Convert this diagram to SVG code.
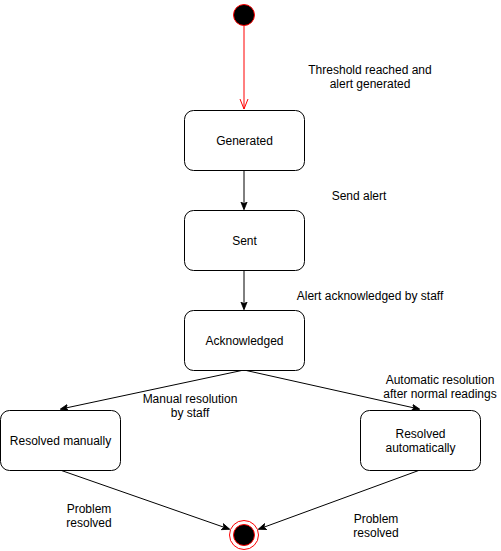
<svg xmlns="http://www.w3.org/2000/svg" width="501" height="551" viewBox="0 0 501 551">
  <style>
    .state rect { fill: #ffffff; stroke: #000000; stroke-width: 1; }
    .state text, .label { font-family: "Liberation Sans", Arial, Helvetica, sans-serif; font-size: 12px; fill: #000000; text-anchor: middle; }
    .edge { fill: none; stroke: #000000; stroke-width: 1; }
    .edge-red { fill: none; stroke: #ff0000; stroke-width: 1; }
  </style>
  <defs>
    <marker id="arrow" viewBox="0 0 10 10" refX="9" refY="5" markerWidth="8" markerHeight="8" markerUnits="userSpaceOnUse" orient="auto">
      <path d="M0,1 L10,5 L0,9 L2.5,5 Z" fill="#000000" stroke="#000000" stroke-width="1"/>
    </marker>
    <marker id="arrow-open" viewBox="0 0 10 10" refX="10" refY="5" markerWidth="10" markerHeight="10" markerUnits="userSpaceOnUse" orient="auto">
      <path d="M0,1 L10,5 L0,9" fill="none" stroke="#ff0000" stroke-width="1"/>
    </marker>
  </defs>

  <rect x="0" y="0" width="501" height="551" fill="#ffffff"/>

  <!-- connectors and their labels -->
  <g id="connectors">
    <path class="edge-red" d="M244,26 L244,109" marker-end="url(#arrow-open)"/>
    <path class="edge" d="M244,170 L244,209" marker-end="url(#arrow)"/>
    <path class="edge" d="M244,270 L244,309" marker-end="url(#arrow)"/>
    <path class="edge" d="M244,370 L61,409" marker-end="url(#arrow)"/>
    <path class="edge" d="M244,370 L419,409" marker-end="url(#arrow)"/>
    <path class="edge" d="M60,470 L229,529" marker-end="url(#arrow)"/>
    <path class="edge" d="M420,470 L259,529" marker-end="url(#arrow)"/>

    <text class="label" x="370" y="74">Threshold reached and</text>
    <text class="label" x="370" y="88">alert generated</text>
    <text class="label" x="359" y="200">Send alert</text>
    <text class="label" x="370" y="300">Alert acknowledged by staff</text>
    <text class="label" x="190" y="403">Manual resolution</text>
    <text class="label" x="190" y="417">by staff</text>
    <text class="label" x="440" y="384">Automatic resolution</text>
    <text class="label" x="440" y="398">after normal readings</text>
    <text class="label" x="89" y="513">Problem</text>
    <text class="label" x="89" y="527">resolved</text>
    <text class="label" x="376" y="523">Problem</text>
    <text class="label" x="376" y="537">resolved</text>
  </g>

  <!-- initial state -->
  <g id="initial">
    <circle cx="244" cy="15" r="10.5" fill="#000000" stroke="#ff0000" stroke-width="1"/>
  </g>

  <g id="generated" class="state">
    <rect x="184.5" y="110.5" width="120" height="60" rx="9" ry="9"/>
    <text x="244.5" y="145">Generated</text>
  </g>

  <g id="sent" class="state">
    <rect x="184.5" y="210.5" width="120" height="60" rx="9" ry="9"/>
    <text x="244.5" y="245">Sent</text>
  </g>

  <g id="acknowledged" class="state">
    <rect x="184.5" y="310.5" width="120" height="60" rx="9" ry="9"/>
    <text x="244.5" y="345">Acknowledged</text>
  </g>

  <g id="resolved-manually" class="state">
    <rect x="0.5" y="410.5" width="120" height="60" rx="9" ry="9"/>
    <text x="60.5" y="445">Resolved manually</text>
  </g>

  <g id="resolved-automatically" class="state">
    <rect x="360.5" y="410.5" width="120" height="60" rx="9" ry="9"/>
    <text x="420.5" y="438">Resolved</text>
    <text x="420.5" y="452">automatically</text>
  </g>

  <!-- final state -->
  <g id="final">
    <circle cx="244" cy="535" r="14.5" fill="#ffffff" stroke="#ff0000" stroke-width="1"/>
    <circle cx="244" cy="535" r="10.5" fill="#000000" stroke="#ff0000" stroke-width="1"/>
  </g>
</svg>
